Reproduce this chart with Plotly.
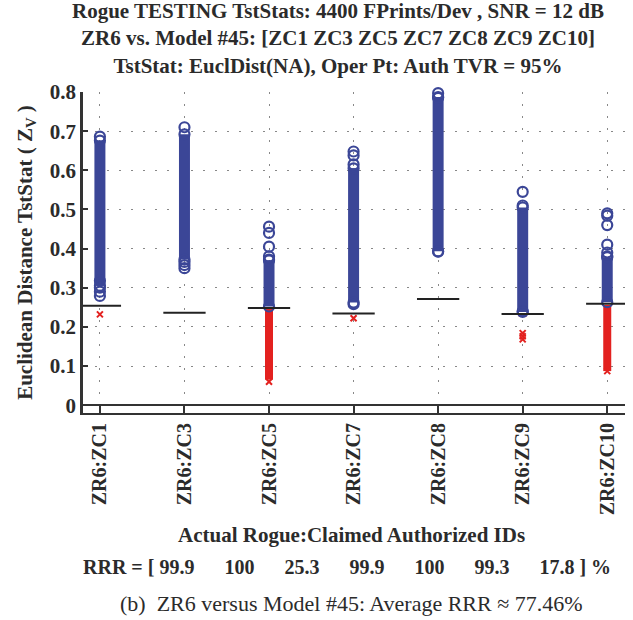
import plotly.graph_objects as go

# ---------------- data ----------------
categories = ["ZR6:ZC1", "ZR6:ZC3", "ZR6:ZC5", "ZR6:ZC7", "ZR6:ZC8", "ZR6:ZC9", "ZR6:ZC10"]
thresholds = [0.254, 0.236, 0.248, 0.234, 0.271, 0.233, 0.259]
# dense (solid-looking) ranges of rogue test stats above threshold (blue circles)
blue_lo = [0.305, 0.372, 0.252, 0.262, 0.393, 0.238, 0.263]
blue_hi = [0.676, 0.692, 0.370, 0.605, 0.785, 0.505, 0.378]
# isolated blue circles
blue_pts = [
    [0.686, 0.279, 0.290, 0.300, 0.318],
    [0.710, 0.350, 0.358, 0.366],
    [0.456, 0.440, 0.405, 0.380, 0.372],
    [0.648, 0.638, 0.615, 0.258],
    [0.797, 0.787, 0.392],
    [0.545, 0.510, 0.240],
    [0.490, 0.484, 0.460, 0.410, 0.390, 0.380],
]
# dense ranges below threshold (red x)
red_lo = [None, None, 0.065, None, None, 0.226, 0.087]
red_hi = [None, None, 0.246, None, None, 0.231, 0.256]
# isolated red crosses
red_pts = [
    [0.232],
    [],
    [0.060],
    [0.222],
    [],
    [0.184, 0.176, 0.168],
    [0.087],
]
rrr = ["99.9", "100", "25.3", "99.9", "100", "99.3", "17.8"]
ytick_vals = [0, 0.1, 0.2, 0.3, 0.4, 0.5, 0.6, 0.7, 0.8]
ytick_text = ["0", "0.1", "0.2", "0.3", "0.4", "0.5", "0.6", "0.7", "0.8"]

BLUE = "#3b4697"
RED = "#e3211f"
TXT = "#2b2b2b"
SERIF = "Liberation Serif, Times New Roman, serif"

xs = list(range(1, len(categories) + 1))

fig = go.Figure()

# dense blue columns
for x, lo, hi in zip(xs, blue_lo, blue_hi):
    fig.add_trace(go.Scatter(x=[x, x], y=[lo, hi], mode="lines",
                             line=dict(color=BLUE, width=11), cliponaxis=False,
                             showlegend=False, hoverinfo="skip"))
# dense red columns
for x, lo, hi in zip(xs, red_lo, red_hi):
    if lo is None:
        continue
    fig.add_trace(go.Scatter(x=[x, x], y=[lo, hi], mode="lines",
                             line=dict(color=RED, width=8), cliponaxis=False,
                             showlegend=False, hoverinfo="skip"))

# isolated blue circles + end circles of dense ranges
bx, by = [], []
for x, pts in zip(xs, blue_pts):
    for p in pts:
        bx.append(x)
        by.append(p)
for x, lo, hi in zip(xs, blue_lo, blue_hi):
    bx += [x, x]
    by += [lo, hi]
fig.add_trace(go.Scatter(x=bx, y=by, mode="markers", cliponaxis=False,
                         marker=dict(symbol="circle-open", size=10, color=BLUE,
                                     line=dict(width=2.2, color=BLUE)),
                         showlegend=False))

# isolated red crosses
rx, ry = [], []
for x, pts in zip(xs, red_pts):
    for p in pts:
        rx.append(x)
        ry.append(p)
fig.add_trace(go.Scatter(x=rx, y=ry, mode="markers", cliponaxis=False,
                         marker=dict(symbol="x-thin-open", size=6, color=RED,
                                     line=dict(width=2, color=RED)),
                         showlegend=False))

# threshold segments
for x, t in zip(xs, thresholds):
    fig.add_trace(go.Scatter(x=[x - 0.25, x + 0.25], y=[t, t], mode="lines",
                             line=dict(color="#222222", width=2), cliponaxis=False,
                             showlegend=False, hoverinfo="skip"))

fig.update_layout(
    width=633, height=620,
    margin=dict(l=83, r=8, t=92, b=207),
    paper_bgcolor="white", plot_bgcolor="white",
    font=dict(family=SERIF, color=TXT),
    showlegend=False,
)

fig.update_xaxes(
    range=[0.8, 7.21], tickvals=xs, ticktext=["<b>%s</b>" % c for c in categories],
    tickangle=-90, tickfont=dict(size=20, family=SERIF, color=TXT),
    ticks="inside", ticklen=7, tickwidth=2, tickcolor="#333",
    showline=True, linecolor="#333", linewidth=2, mirror=False,
    showgrid=True, gridcolor="#888", gridwidth=1, griddash="2px,10px",
    zeroline=False,
)
fig.update_yaxes(
    range=[-0.02, 0.8], tickvals=ytick_vals,
    ticktext=["<b>%s</b>" % s for s in ytick_text],
    tickfont=dict(size=21, family=SERIF, color=TXT),
    ticks="inside", ticklen=5, tickwidth=2, tickcolor="#333",
    showline=True, linecolor="#333", linewidth=2.5,
    showgrid=True, gridcolor="#888", gridwidth=1, griddash="2px,10px",
    zeroline=True, zerolinecolor="#333", zerolinewidth=2,
    title=dict(text="<b>Euclidean Distance TstStat ( Z<sub>V</sub> )</b>",
               font=dict(size=21, family=SERIF, color=TXT), standoff=12),
)

fig.add_annotation(xref="paper", yref="paper", x=0.47, y=1, yshift=12,
                   xanchor="center", yanchor="bottom", showarrow=False,
                   text="<b>Rogue TESTING TstStats: 4400 FPrints/Dev , SNR = 12 dB<br>"
                        "ZR6 vs. Model #45: [ZC1 ZC3 ZC5 ZC7 ZC8 ZC9 ZC10]<br>"
                        "TstStat: EuclDist(NA), Oper Pt: Auth TVR = 95%</b>",
                   font=dict(size=21, family=SERIF, color=TXT), align="center")

fig.add_annotation(xref="paper", yref="paper", x=0.495, y=0, yshift=-122,
                   xanchor="center", yanchor="middle", showarrow=False,
                   text="<b>Actual Rogue:Claimed Authorized IDs</b>",
                   font=dict(size=21, family=SERIF, color=TXT))

rrr_text = "<b>RRR = [ " + "      ".join(rrr) + " ] %</b>"
fig.add_annotation(xref="paper", yref="paper", x=0.487, y=0, yshift=-154,
                   xanchor="center", yanchor="middle", showarrow=False,
                   text=rrr_text,
                   font=dict(size=20, family=SERIF, color=TXT))

fig.add_annotation(xref="paper", yref="paper", x=0.495, y=0, yshift=-190,
                   xanchor="center", yanchor="middle", showarrow=False,
                   text="(b)  ZR6 versus Model #45: Average RRR ≈ 77.46%",
                   font=dict(size=22, family=SERIF, color=TXT))

fig.write_html("out.html")
